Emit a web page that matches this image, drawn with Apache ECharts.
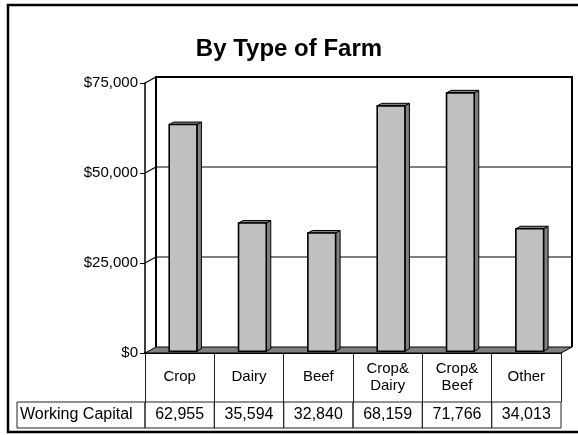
<!DOCTYPE html>
<html>
<head>
<meta charset="utf-8">
<script src="https://cdn.jsdelivr.net/npm/echarts@6/dist/echarts.min.js"></script>
<style>
  html, body { margin: 0; padding: 0; background: #fff; }
  #chart { width: 578px; height: 435px; }
</style>
</head>
<body>
<div id="chart"></div>
<script>
const categories = ['Crop', 'Dairy', 'Beef', 'Crop&\nDairy', 'Crop&\nBeef', 'Other']
const workingCapital = [62955, 35594, 32840, 68159, 71766, 34013]
const yTicks = [0, 25000, 50000, 75000]
const rowLabel = 'Working Capital'

const FONT = 'Liberation Sans, Arial, sans-serif'
// depth of the 3D box (back wall offset) and of the bars
const DX = 11, DY = -6
const BX = 4.5, BY = -2.5
const OX = 3.4, OY = -1.8

const fmt = v => v.toLocaleString('en-US')

function renderWalls(params, api) {
  const bw = api.size([1, 0])[0]
  const p0 = api.coord([0, 0])
  const xL = p0[0] - bw / 2
  const xR = xL + categories.length * bw
  const y0 = p0[1]
  const yTop = api.coord([0, yTicks[yTicks.length - 1]])[1]
  const children = []
  children.push({
    type: 'rect',
    shape: { x: xL + DX, y: yTop + DY, width: xR - xL, height: y0 - yTop },
    style: { fill: '#fff' }
  })
  yTicks.forEach(v => {
    const y = api.coord([0, v])[1]
    if (v > 0 && v < yTicks[yTicks.length - 1]) {
      children.push({
        type: 'line',
        shape: { x1: xL + DX, y1: y + DY, x2: xR + DX, y2: y + DY },
        style: { stroke: '#000', lineWidth: 1 }
      })
    }
    if (v > 0) {
      children.push({
        type: 'line',
        shape: { x1: xL, y1: y, x2: xL + DX, y2: y + DY },
        style: { stroke: '#000', lineWidth: 1.2 }
      })
    }
  })
  children.push({
    type: 'polyline',
    shape: { points: [[xL + DX, y0 + DY], [xL + DX, yTop + DY], [xR + DX, yTop + DY], [xR + DX, y0 + DY]] },
    style: { stroke: '#000', lineWidth: 2, fill: null }
  })
  children.push({
    type: 'polygon',
    shape: { points: [[xL, y0], [xR, y0], [xR + DX, y0 + DY], [xL + DX, y0 + DY]] },
    style: { fill: '#808080', stroke: '#000', lineWidth: 1 }
  })
  return { type: 'group', children }
}

function renderBar(params, api) {
  const i = api.value(0)
  const v = api.value(1)
  const base = api.coord([i, 0])
  const top = api.coord([i, v])
  const bw = api.size([1, 0])[0]
  const w = bw * 0.4
  const x1 = base[0] - w / 2 + OX
  const x2 = x1 + w
  const yb = base[1] + OY
  const yt = top[1] + OY
  return {
    type: 'group',
    children: [
      { type: 'polygon', shape: { points: [[x2, yt], [x2 + BX, yt + BY], [x2 + BX, yb + BY], [x2, yb]] },
        style: { fill: '#808080', stroke: '#000', lineWidth: 1 } },
      { type: 'polygon', shape: { points: [[x1, yt], [x1 + BX, yt + BY], [x2 + BX, yt + BY], [x2, yt]] },
        style: { fill: '#808080', stroke: '#000', lineWidth: 1 } },
      { type: 'rect', shape: { x: x1, y: yt, width: w, height: yb - yt },
        style: { fill: '#c0c0c0', stroke: '#000', lineWidth: 1.6 } }
    ]
  }
}

function renderTableCell(params, api) {
  const i = api.value(0)
  const v = api.value(1)
  const base = api.coord([i, 0])
  const bw = api.size([1, 0])[0]
  const top = base[1] + 49
  const h = 26
  const children = [
    { type: 'rect', shape: { x: base[0] - bw / 2, y: top, width: bw, height: h },
      style: { fill: null, stroke: '#222', lineWidth: 1 } },
    { type: 'text', x: base[0], y: top + h / 2,
      style: { text: fmt(v), fontSize: 16, fontFamily: FONT, fill: '#000', align: 'center', verticalAlign: 'middle' } }
  ]
  if (i === 0) {
    const left = 17
    children.push(
      { type: 'rect', shape: { x: left, y: top, width: base[0] - bw / 2 - left, height: h },
        style: { fill: null, stroke: '#222', lineWidth: 1 } },
      { type: 'text', x: left + 3, y: top + h / 2,
        style: { text: rowLabel, fontSize: 16, fontFamily: FONT, fill: '#000', align: 'left', verticalAlign: 'middle' } }
    )
  }
  return { type: 'group', children }
}

const chart = echarts.init(document.getElementById('chart'), null, { renderer: 'canvas' })
const barData = workingCapital.map((v, i) => [i, v])

chart.setOption({
  animation: false,
  backgroundColor: '#fff',
  textStyle: { fontFamily: FONT },
  title: {
    text: 'By Type of Farm',
    left: 'center',
    top: 32,
    textStyle: { fontSize: 24, fontWeight: 'bold', color: '#000', fontFamily: FONT }
  },
  graphic: [{
    type: 'rect',
    shape: { x: 8, y: 5, width: 590, height: 427 },
    style: { fill: null, stroke: '#000', lineWidth: 2.5 },
    z: 100
  }],
  grid: { left: 145, top: 83, width: 416, height: 270 },
  xAxis: {
    type: 'category',
    data: categories,
    boundaryGap: true,
    axisLine: { show: true, lineStyle: { color: '#000', width: 2 } },
    axisTick: { show: true, length: 49, lineStyle: { color: '#222', width: 1 } },
    axisLabel: { fontSize: 15, lineHeight: 17, color: '#000', margin: 24, verticalAlign: 'middle', fontFamily: FONT },
    splitLine: { show: false }
  },
  yAxis: {
    type: 'value',
    min: 0,
    max: 75000,
    interval: 25000,
    axisLine: { show: true, lineStyle: { color: '#000', width: 1.5 } },
    axisTick: { show: true, length: 5, lineStyle: { color: '#000', width: 1 } },
    axisLabel: { fontSize: 15, color: '#000', margin: 7, fontFamily: FONT, formatter: v => '$' + fmt(v) },
    splitLine: { show: false }
  },
  series: [
    { type: 'custom', name: 'walls', data: [[0, 0]], encode: { x: 0, y: 1 }, renderItem: renderWalls, z: 1, silent: true },
    { type: 'custom', name: rowLabel, data: barData, encode: { x: 0, y: 1 }, renderItem: renderBar, z: 3 },
    { type: 'custom', name: 'table', data: barData, encode: { x: 0, y: 1 }, renderItem: renderTableCell, z: 3, silent: true }
  ]
})
</script>
</body>
</html>
